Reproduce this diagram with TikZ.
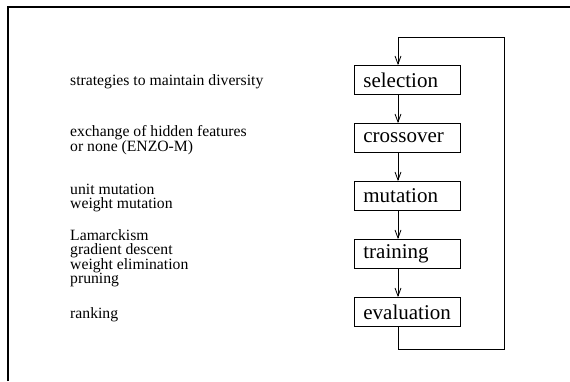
\documentclass[tikz,border=0pt]{standalone}
\usepackage{fontspec}
\setmainfont{Liberation Serif}
\usetikzlibrary{arrows.meta}
\begin{document}
\begin{tikzpicture}[x=1pt,y=-1pt,
  stage/.style={draw, line width=0.8pt, anchor=west, rectangle,
    text width=88pt, inner xsep=9pt, inner ysep=0pt, minimum height=29pt,
    align=left, font={\fontsize{21}{24}\selectfont}},
  note/.style={anchor=west, inner sep=0pt, align=left,
    font={\fontsize{15.7}{14.5}\selectfont\lineskiplimit=-20pt}},
  flow/.style={line width=0.8pt, -{Straight Barb[length=8pt,width=6pt,line width=0.8pt]}},
  wire/.style={line width=0.8pt},
  frame/.style={line width=1.8pt}]
\useasboundingbox (0,0) rectangle (570,381);
% page frame (top and left edges)
\draw[frame] (8,381) -- (8,7) -- (571,7);

% process stages
\node[stage] (sel) at (354,80)  {selection};
\node[stage] (cro) at (354,138) {crossover};
\node[stage] (mut) at (354,196) {mutation};
\node[stage] (tra) at (354,254) {training};
\node[stage] (eva) at (354,312) {evaluation};

% annotations
\node[note] (n1) at (70,82)  {strategies to maintain diversity};
\node[note] (n2) at (70,140) {exchange of hidden features\\or none (ENZO-M)};
\node[note] (n3) at (70,198) {unit mutation\\weight mutation};
\node[note] (n4) at (70,258) {Lamarckism\\gradient descent\\weight elimination\\pruning};
\node[note] (n5) at (70,315) {ranking};

% arrow column and loop corners
\coordinate (ax) at (398,0);
\coordinate (lbl) at (398,349);
\coordinate (lbr) at (504,349);
\coordinate (ltr) at (504,37);
\coordinate (ltl) at (398,37);

\draw[flow] (sel.south -| ax) -- (cro.north -| ax);
\draw[flow] (cro.south -| ax) -- (mut.north -| ax);
\draw[flow] (mut.south -| ax) -- (tra.north -| ax);
\draw[flow] (tra.south -| ax) -- (eva.north -| ax);
\draw[flow] (eva.south -| ax) -- (lbl) -- (lbr) -- (ltr) -- (ltl) -- (sel.north -| ax);
\end{tikzpicture}
\end{document}
